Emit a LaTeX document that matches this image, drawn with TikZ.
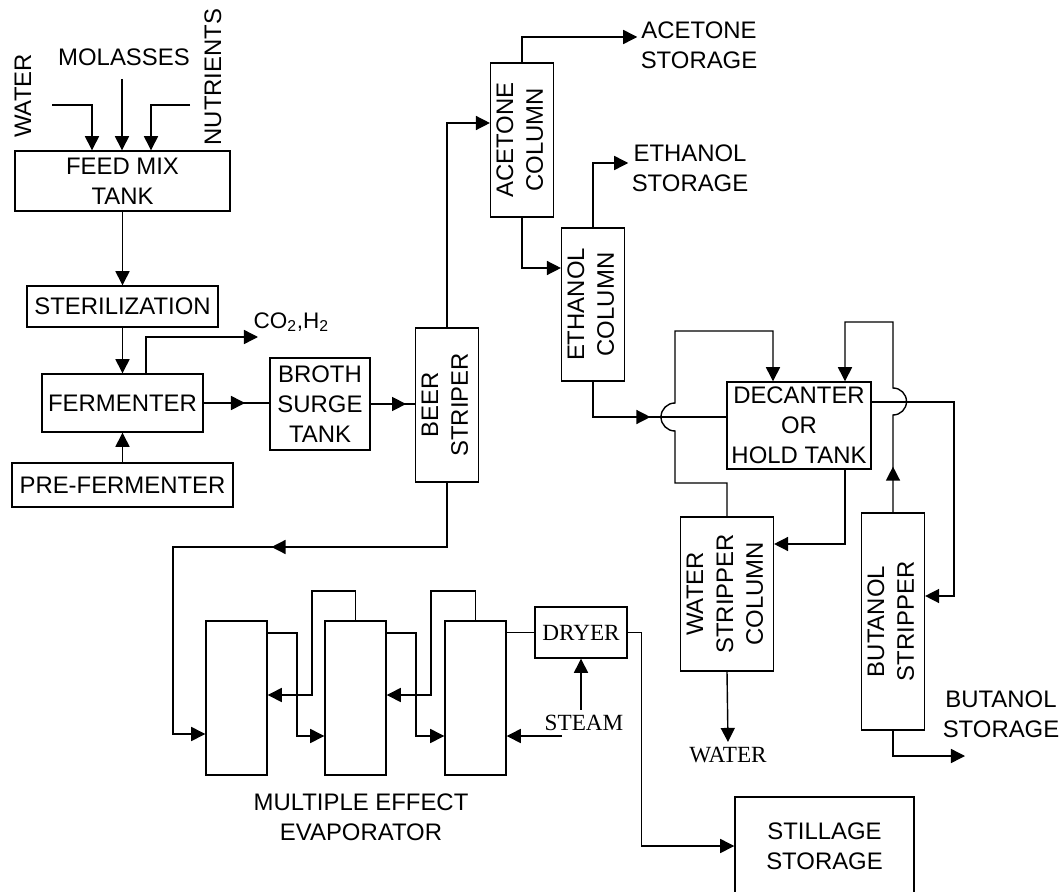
\documentclass[tikz,border=0pt]{standalone}
\usepackage{fontspec}
\setmainfont{Liberation Sans}
\newfontfamily\timesfont{Liberation Serif}
\usepackage{graphicx}
\usetikzlibrary{arrows.meta,positioning,calc,decorations.markings}

\newcommand{\vlabel}[1]{\rotatebox{90}{\begin{tabular}{@{}c@{}}#1\end{tabular}}}

\begin{document}
\begin{tikzpicture}[
    x=0.025cm, y=-0.025cm,
    line width=1pt,
    font=\fontsize{17}{21.3}\selectfont,
    box/.style={draw,inner sep=1pt,align=center},
    lbl/.style={inner sep=2pt,align=center},
    serif/.style={font=\timesfont\fontsize{16.5}{20}\selectfont},
    >={Triangle[length=10pt,width=10pt]},
    midarr/.style={postaction={decorate,decoration={markings,mark=at position #1 with {\arrow{>}}}}}
]
\useasboundingbox (0,0) rectangle (1064,892);

\node[box,minimum width=5.375cm,minimum height=1.5cm] (feed) at (122.5,181) {FEED MIX\\TANK};
\node[box,minimum width=4.775cm,minimum height=1.025cm] (steril) at (122.5,306.5) {STERILIZATION};
\node[box,minimum width=4.025cm,minimum height=1.45cm] (ferm) at (122.5,403) {FERMENTER};
\node[box,minimum width=5.525cm,minimum height=1.1cm] (prefer) at (122.5,485) {PRE-FERMENTER};
\node[box,minimum width=2.5cm,minimum height=2.3cm] (broth) at (320,404) {BROTH\\SURGE\\TANK};
\node[box,minimum width=1.5cm,minimum height=3.85cm] (beer) at (447,405) {\vlabel{BEER\\STRIPER}};
\node[box,minimum width=1.5cm,minimum height=3.85cm] (acecol) at (522,140) {\vlabel{ACETONE\\COLUMN}};
\node[box,minimum width=1.5cm,minimum height=3.825cm] (ethcol) at (593,304.5) {\vlabel{ETHANOL\\COLUMN}};
\node[box,minimum width=3.6cm,minimum height=2.175cm] (decant) at (799,425.5) {DECANTER\\OR\\HOLD TANK};
\node[box,minimum width=2.3cm,minimum height=3.85cm] (watcol) at (727,594) {\vlabel{WATER\\STRIPPER\\COLUMN}};
\node[box,minimum width=1.5cm,minimum height=5.425cm] (butcol) at (893,621.5) {\vlabel{BUTANOL\\STRIPPER}};
\node[box,minimum width=1.525cm,minimum height=3.85cm] (evap1) at (236.5,698) {};
\node[box,minimum width=1.525cm,minimum height=3.85cm] (evap2) at (355.5,698) {};
\node[box,minimum width=1.525cm,minimum height=3.85cm] (evap3) at (475.5,698) {};
\node[box,serif,minimum width=2.3cm,minimum height=1.275cm] (dryer) at (581,632.5) {DRYER};
\node[box,minimum width=4.475cm,minimum height=2.45cm] (still) at (824.5,846) {STILLAGE\\STORAGE};

\node[rotate=90] (water) at (23,96) {WATER};
\node (molas) at (124,57) {MOLASSES};
\node[rotate=90] (nutr) at (213,77) {NUTRIENTS};
\node[anchor=base west,inner sep=0pt,font=\fontsize{16}{19}\selectfont] (gas) at (253,328) {CO\textsubscript{2},H\textsubscript{2}};
\node[lbl] (acestor) at (699,45) {ACETONE\\STORAGE};
\node[lbl] (ethstor) at (690,168) {ETHANOL\\STORAGE};
\node[lbl] (butstor) at (1001,714) {BUTANOL\\STORAGE};
\node[lbl] (evlab) at (361,817) {MULTIPLE EFFECT\\EVAPORATOR};
\node[serif,anchor=north] (watout) at (728,742) {WATER};
\node[serif] (steam) at (584,723) {STEAM};

\coordinate (watin) at (52,105);
\coordinate (molin) at (122,79);
\coordinate (nutin) at (190,105);
\coordinate (gasout) at (258,337);
\coordinate (butout) at (965,756);
\coordinate (steamin) at (562,736);

\draw[->] (watin) -| (feed.north -| 92,0);
\draw[->] (molin) -- (molin |- feed.north);
\draw[->] (nutin) -| (feed.north -| 151,0);
\draw[->] (feed.south) -- (steril.north);
\draw[->] (steril.south) -- (ferm.north);
\draw[->] (prefer.north) -- (ferm.south);
\draw[->] (ferm.north -| 146,0) |- (gasout);
\draw[midarr=0.63] (ferm.east) -- (ferm.east -| broth.west);
\draw[midarr=0.8] (broth.east) -- (broth.east -| beer.west);
\draw[->] (beer.north) |- (acecol.west |- 0,123);
\draw[->] (acecol.north) |- (acestor.west |- 0,37);
\draw[->] (acecol.south) |- (ethcol.west |- 0,268);
\draw[->] (ethcol.north) |- (ethstor.west |- 0,163);
\draw[midarr=0.55] (ethcol.south) |- (decant.west |- 0,417);
\draw[->] (watcol.north) |- (675,483) -- (675,431)
  arc[start angle=-90,end angle=-270,radius=0.35cm] -- (675,331) -| (decant.north -| 773,0);
\draw[->] (decant.south -| 845,0) |- (watcol.east |- 0,544);
\draw[->] (decant.east |- 0,402) -- (954,402) -- (954,596) -- (butcol.east |- 0,596);
\draw[->,midarr=0.146] (butcol.north) -- (893,415)
  arc[start angle=-90,end angle=90,radius=0.3375cm] -- (893,322) -| (decant.north -| 845,0);
\draw[->] (butcol.south) |- (butout);
\draw[->] (watcol.south) -- (watout.north);

\draw[->,midarr=0.43] (beer.south) -- (447,547) -- (173,547) |- (evap1.west |- 0,734);
\draw[->] (evap1.east |- 0,633) -- (297,633) |- (evap2.west |- 0,736);
\draw[->] (evap2.east |- 0,633) -- (416,633) |- (evap3.west |- 0,736);
\draw[->] (evap2.north) |- (312,591) |- (evap1.east |- 0,695);
\draw[->] (evap3.north) |- (431,591) |- (evap2.east |- 0,695);
\draw (evap3.east |- dryer.west) -- (dryer.west);
\draw[->] (dryer.south |- steam.north) -- (dryer.south);
\draw[->] (steamin) -- (evap3.east |- steamin);
\draw[->] (dryer.east) -- ++(14,0) |- (still.west);
\end{tikzpicture}
\end{document}
